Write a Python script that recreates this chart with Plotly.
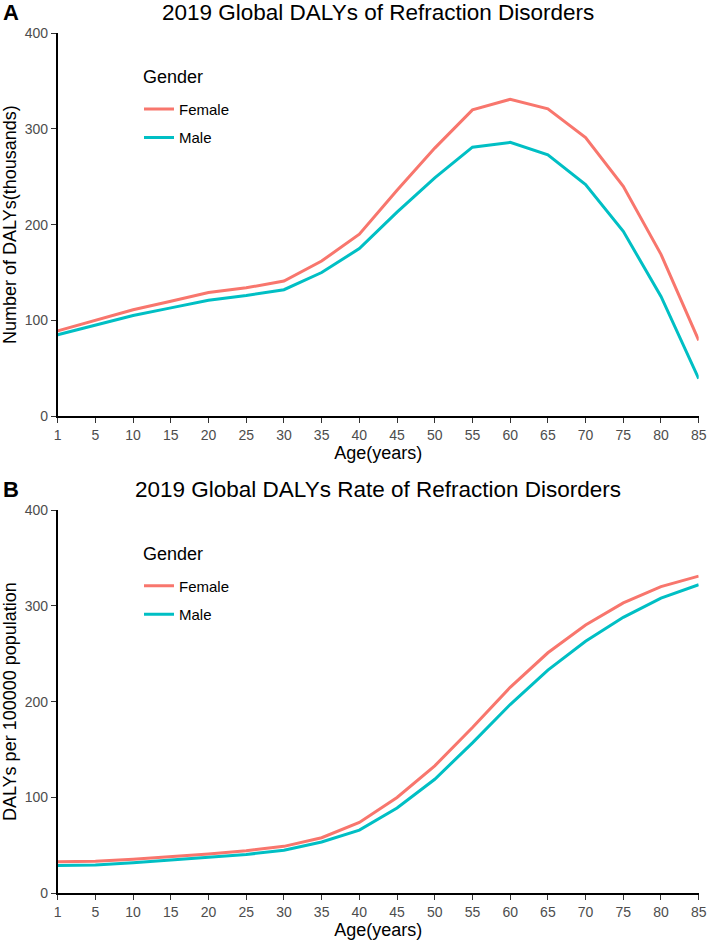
import plotly.graph_objects as go

# ---- data ----
ages = ["1", "5", "10", "15", "20", "25", "30", "35", "40", "45",
        "50", "55", "60", "65", "70", "75", "80", "85"]

dalys_female = [89, 100, 111, 120, 129, 134, 141, 162, 190, 236,
                280, 320, 331, 321, 291, 240, 169, 79]
dalys_male = [85, 95, 105, 113, 121, 126, 132, 150, 175, 213,
              249, 281, 286, 273, 242, 193, 125, 39]

rate_female = [33, 33.5, 35.5, 38, 41, 44.5, 49, 58, 74, 100,
               133, 173, 215, 251, 280, 303, 320, 331]
rate_male = [29, 29.5, 32, 34.5, 37.5, 40.5, 45, 53.5, 66, 89,
             119, 157, 197, 233, 263, 288, 308, 322]

titles = ["2019 Global DALYs of Refraction Disorders",
          "2019 Global DALYs Rate of Refraction Disorders"]
ytitles = ["Number of DALYs(thousands)", "DALYs per 100000 population"]
tags = ["A", "B"]
legend_title = "Gender"
yticks = [0, 100, 200, 300, 400]

FEMALE_COLOR = "#F8766D"
MALE_COLOR = "#00BFC4"
FONT = "Liberation Sans, Arial, sans-serif"

W, H = 709, 940
X0, X1 = 57.7, 698.7
panels_px = [(33.3, 416.0), (510.0, 893.3)]  # (top, bottom) in px


def py(v):
    return (H - v) / H


fig = go.Figure()

series = [(dalys_female, dalys_male), (rate_female, rate_male)]
for i, (fem, mal) in enumerate(series):
    xa = "x" if i == 0 else "x2"
    ya = "y" if i == 0 else "y2"
    lg = "legend" if i == 0 else "legend2"
    fig.add_trace(go.Scatter(x=ages, y=fem, mode="lines", name="Female",
                             line=dict(color=FEMALE_COLOR, width=3),
                             xaxis=xa, yaxis=ya, legend=lg, legendgroup="F%d" % i))
    fig.add_trace(go.Scatter(x=ages, y=mal, mode="lines", name="Male",
                             line=dict(color=MALE_COLOR, width=3),
                             xaxis=xa, yaxis=ya, legend=lg, legendgroup="M%d" % i))

xdom = [X0 / W, X1 / W]
common_x = dict(type="category", categoryorder="array", categoryarray=ages,
                range=[0, len(ages) - 1], showline=True, linecolor="black",
                linewidth=1.5, ticks="outside", ticklen=5, tickwidth=1.2,
                tickcolor="#333333", showgrid=False, zeroline=False,
                tickfont=dict(family=FONT, size=14, color="#4D4D4D"),
                title=dict(text="Age(years)", font=dict(family=FONT, size=18, color="black"),
                           standoff=2),
                domain=xdom, fixedrange=True)
common_y = dict(range=[0, 400], tickvals=yticks, showline=True, linecolor="black",
                linewidth=1.5, ticks="outside", ticklen=5, tickwidth=1.2,
                tickcolor="#333333", showgrid=False, zeroline=False,
                tickfont=dict(family=FONT, size=14, color="#4D4D4D"),
                fixedrange=True)

layout = dict(
    width=W, height=H,
    margin=dict(l=0, r=0, t=0, b=0, autoexpand=False),
    paper_bgcolor="white", plot_bgcolor="white",
    font=dict(family=FONT),
    xaxis=dict(common_x, anchor="y"),
    xaxis2=dict(common_x, anchor="y2"),
    yaxis=dict(common_y, anchor="x", domain=[py(panels_px[0][1]), py(panels_px[0][0])],
               title=dict(text=ytitles[0], font=dict(family=FONT, size=18, color="black"),
                          standoff=6)),
    yaxis2=dict(common_y, anchor="x2", domain=[py(panels_px[1][1]), py(panels_px[1][0])],
                title=dict(text=ytitles[1], font=dict(family=FONT, size=18, color="black"),
                           standoff=6)),
)

for j, lgname in enumerate(["legend", "legend2"]):
    top = panels_px[j][0] + 59.5
    layout[lgname] = dict(
        x=139 / W, xanchor="left", y=py(top), yanchor="top",
        bgcolor="rgba(0,0,0,0)", borderwidth=0,
        font=dict(family=FONT, size=15, color="black"),
        tracegroupgap=6, traceorder="grouped",
    )

annotations = []
for j in range(2):
    top = panels_px[j][0]
    annotations.append(dict(text=titles[j], xref="paper", yref="paper",
                            x=(X0 + X1) / 2 / W, y=py(top - 21), xanchor="center",
                            yanchor="middle", showarrow=False,
                            font=dict(family=FONT, size=22.5, color="black")))
    annotations.append(dict(text="<b>%s</b>" % tags[j], xref="paper", yref="paper",
                            x=1 / W, y=py(top - 20.5), xanchor="left", yanchor="middle",
                            showarrow=False, font=dict(family=FONT, size=22, color="black")))
    annotations.append(dict(text=legend_title, xref="paper", yref="paper",
                            x=141 / W, y=py(top + 43.5), xanchor="left", yanchor="middle",
                            showarrow=False, font=dict(family=FONT, size=18, color="black")))
layout["annotations"] = annotations

fig.update_layout(**layout)
fig.write_html("out.html", config={"displayModeBar": False},
               post_script="document.body.style.margin='0';document.body.style.padding='0';")
